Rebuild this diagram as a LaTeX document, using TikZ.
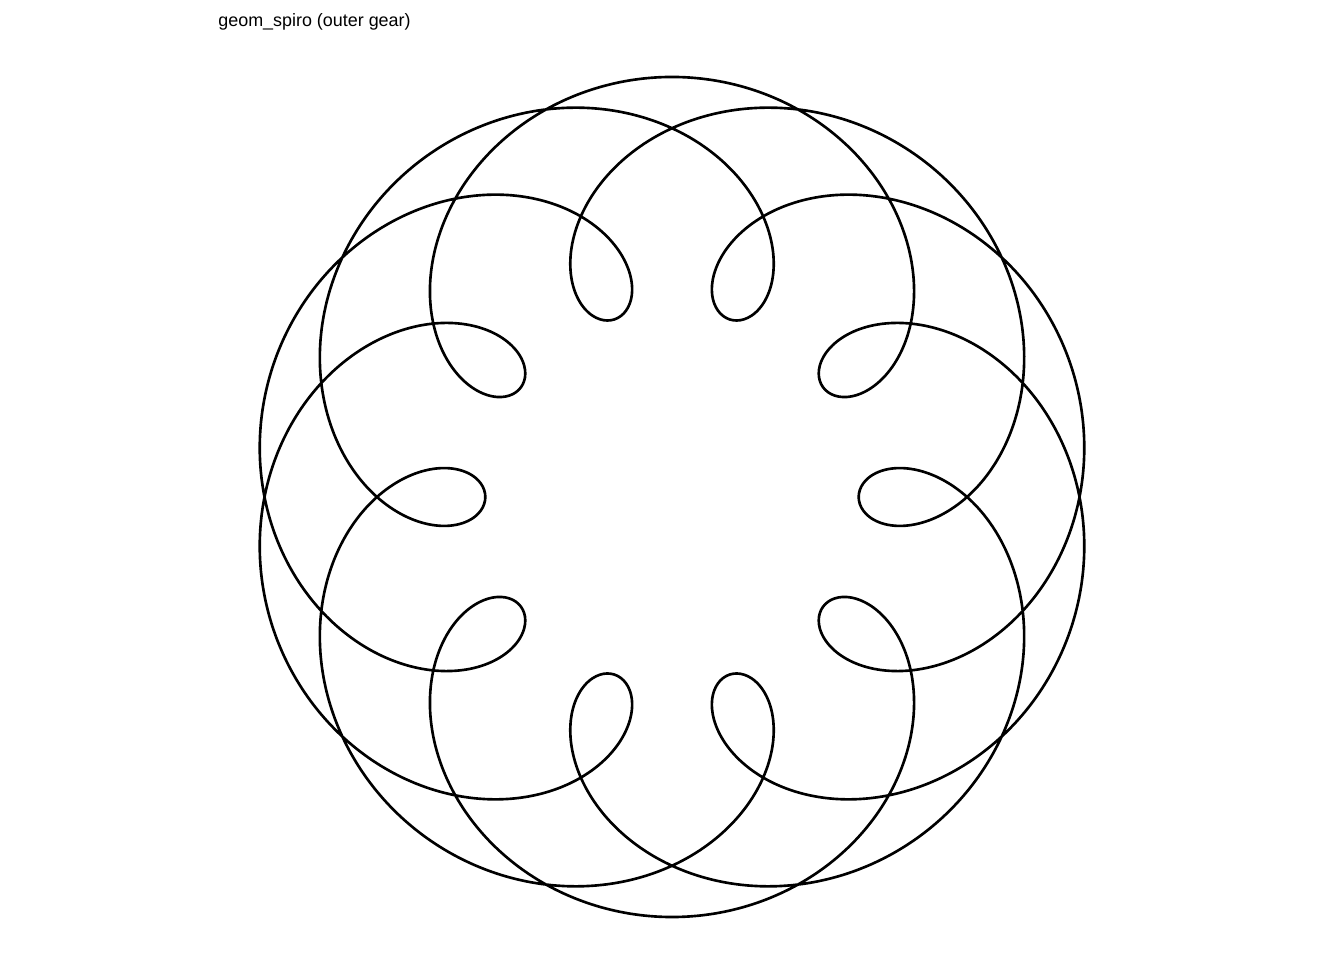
\documentclass[tikz,border=0pt]{standalone}
\usepackage{fontspec}
\setmainfont{Liberation Sans}

\begin{document}
\begin{tikzpicture}[spiro/.style={black, line width=1.5pt, line join=round}]
    \useasboundingbox (0,0) rectangle (26.88,19.2);

    \node[anchor=base west, inner sep=0pt, font=\fontsize{10.2pt}{12pt}\selectfont] (title) at (4.36,18.66) {geom\_spiro (outer gear)};

    % R = 10, r = 3, d = 5
    \begin{scope}[shift={(13.44,9.26)}, scale=0.4667]
        \draw[spiro] plot[domain=0:1080, samples=1081, smooth]
            ({13*cos(\x)-5*cos(13*\x/3)}, {13*sin(\x)-5*sin(13*\x/3)}) -- cycle;
    \end{scope}
\end{tikzpicture}
\end{document}
